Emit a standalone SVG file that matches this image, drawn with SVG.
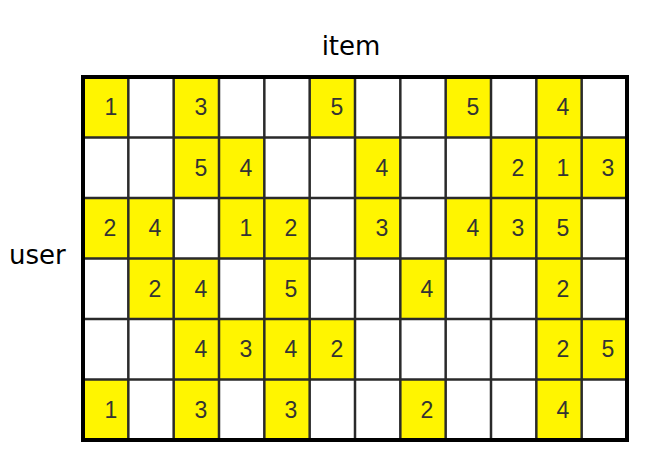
<svg xmlns="http://www.w3.org/2000/svg" width="645" height="455" viewBox="0 0 645 455">
<style>
.y{fill:#FFF500}
.n{font-family:"Liberation Sans",Arial,sans-serif;font-size:23px;fill:#333;text-anchor:middle}
.lbl{font-family:"DejaVu Sans",sans-serif;font-size:26px;fill:#000}
.g{stroke:#2a2a2a;stroke-width:2.5;fill:none}
</style>
<rect width="645" height="455" fill="#fff"/>
<text class="lbl" x="351" y="55" text-anchor="middle">item</text>
<text class="lbl" x="9" y="264">user</text>
<g id="cells">
<rect class="y" x="83" y="77" width="45.33" height="60.5"/>
<rect class="y" x="173.67" y="77" width="45.33" height="60.5"/>
<rect class="y" x="309.67" y="77" width="45.33" height="60.5"/>
<rect class="y" x="445.67" y="77" width="45.33" height="60.5"/>
<rect class="y" x="536.33" y="77" width="45.33" height="60.5"/>
<rect class="y" x="173.67" y="137.5" width="90.67" height="60.5"/>
<rect class="y" x="355" y="137.5" width="45.33" height="60.5"/>
<rect class="y" x="491" y="137.5" width="136" height="60.5"/>
<rect class="y" x="83" y="198" width="90.67" height="60.5"/>
<rect class="y" x="219" y="198" width="90.67" height="60.5"/>
<rect class="y" x="355" y="198" width="45.33" height="60.5"/>
<rect class="y" x="445.67" y="198" width="136" height="60.5"/>
<rect class="y" x="128.33" y="258.5" width="90.67" height="60.5"/>
<rect class="y" x="264.33" y="258.5" width="45.33" height="60.5"/>
<rect class="y" x="400.33" y="258.5" width="45.33" height="60.5"/>
<rect class="y" x="536.33" y="258.5" width="45.33" height="60.5"/>
<rect class="y" x="173.67" y="319" width="181.33" height="60.5"/>
<rect class="y" x="536.33" y="319" width="90.67" height="60.5"/>
<rect class="y" x="83" y="379.5" width="45.33" height="60.5"/>
<rect class="y" x="173.67" y="379.5" width="45.33" height="60.5"/>
<rect class="y" x="264.33" y="379.5" width="45.33" height="60.5"/>
<rect class="y" x="400.33" y="379.5" width="45.33" height="60.5"/>
<rect class="y" x="536.33" y="379.5" width="45.33" height="60.5"/>
</g>
<g id="grid">
<path class="g" d="M128.33 77V440M173.67 77V440M219 77V440M264.33 77V440M309.67 77V440M355 77V440M400.33 77V440M445.67 77V440M491 77V440M536.33 77V440M581.67 77V440M83 137.5H627M83 198H627M83 258.5H627M83 319H627M83 379.5H627"/>
<rect x="83" y="77" width="544" height="363" fill="none" stroke="#000" stroke-width="4"/>
</g>
<g id="values">
<text class="n" x="111" y="115">1</text>
<text class="n" x="201" y="115">3</text>
<text class="n" x="337" y="115">5</text>
<text class="n" x="473" y="115">5</text>
<text class="n" x="563" y="115">4</text>
<text class="n" x="201" y="175.5">5</text>
<text class="n" x="246" y="175.5">4</text>
<text class="n" x="382" y="175.5">4</text>
<text class="n" x="518" y="175.5">2</text>
<text class="n" x="563" y="175.5">1</text>
<text class="n" x="608" y="175.5">3</text>
<text class="n" x="110" y="236">2</text>
<text class="n" x="155" y="236">4</text>
<text class="n" x="246" y="236">1</text>
<text class="n" x="291" y="236">2</text>
<text class="n" x="382" y="236">3</text>
<text class="n" x="473" y="236">4</text>
<text class="n" x="518" y="236">3</text>
<text class="n" x="563" y="236">5</text>
<text class="n" x="155" y="296.5">2</text>
<text class="n" x="201" y="296.5">4</text>
<text class="n" x="291" y="296.5">5</text>
<text class="n" x="427" y="296.5">4</text>
<text class="n" x="563" y="296.5">2</text>
<text class="n" x="201" y="357">4</text>
<text class="n" x="246" y="357">3</text>
<text class="n" x="291" y="357">4</text>
<text class="n" x="337" y="357">2</text>
<text class="n" x="563" y="357">2</text>
<text class="n" x="608" y="357">5</text>
<text class="n" x="111" y="417.5">1</text>
<text class="n" x="201" y="417.5">3</text>
<text class="n" x="291" y="417.5">3</text>
<text class="n" x="427" y="417.5">2</text>
<text class="n" x="563" y="417.5">4</text>
</g>
</svg>
